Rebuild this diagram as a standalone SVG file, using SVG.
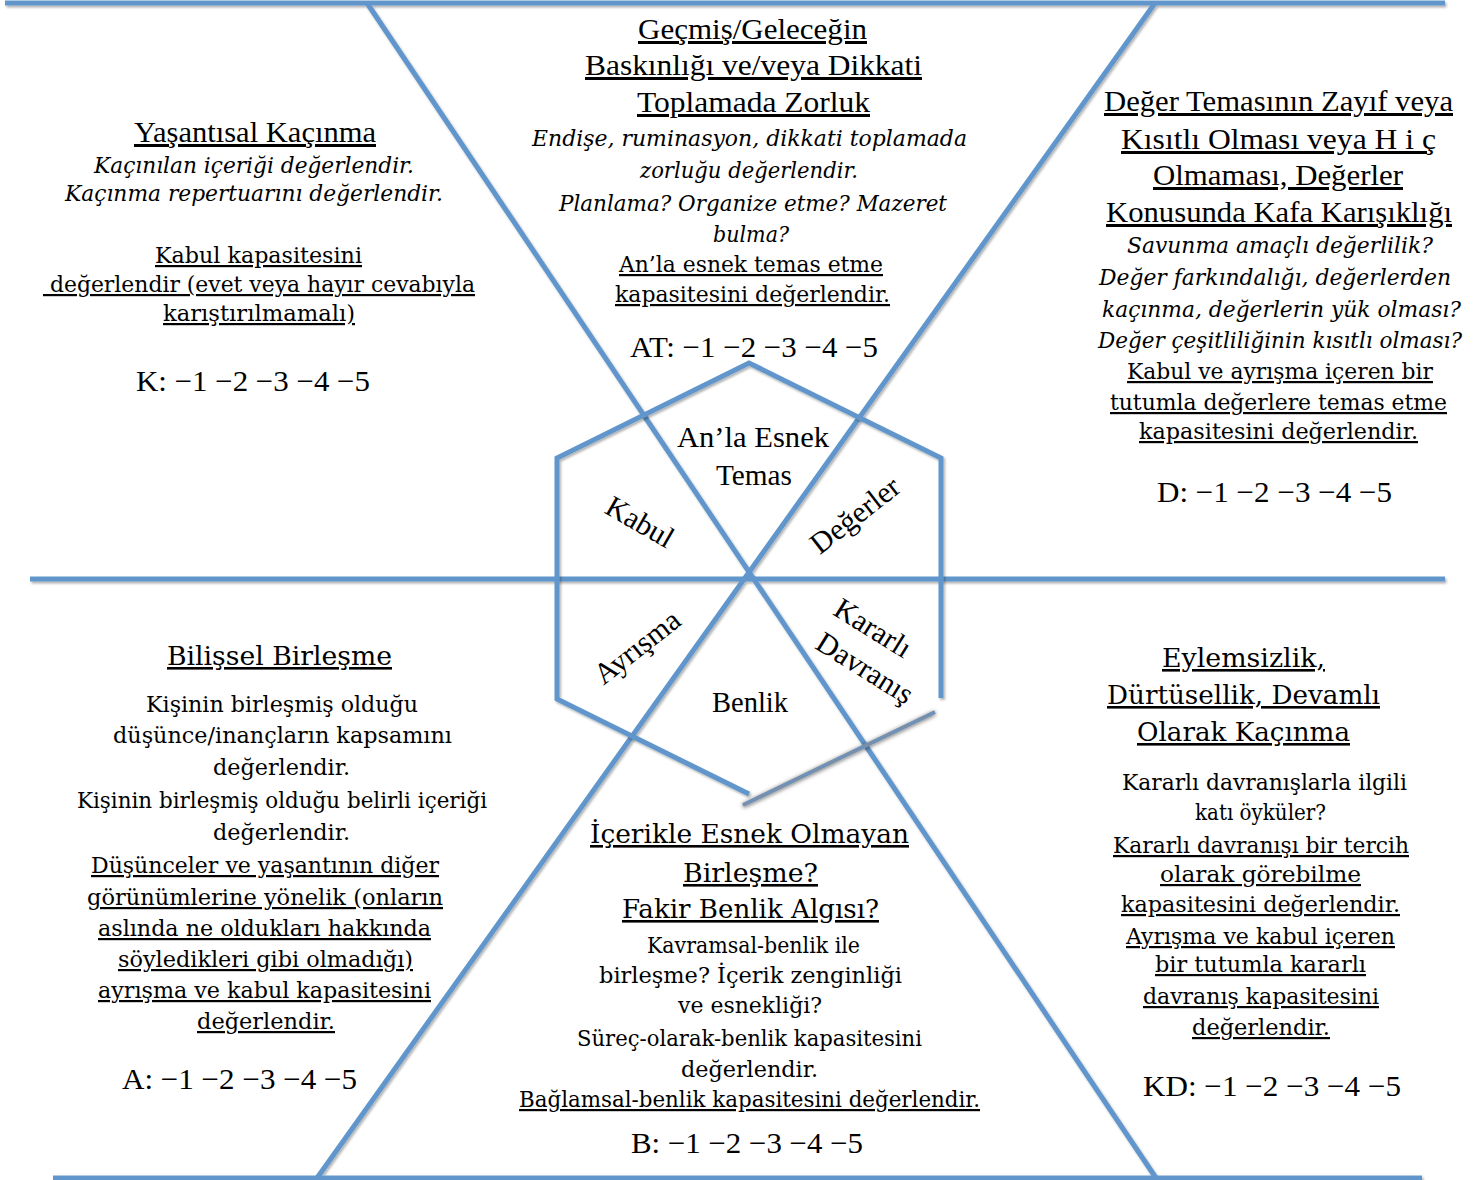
<svg xmlns="http://www.w3.org/2000/svg" width="1479" height="1180" viewBox="0 0 1479 1180">
<style>
.t{font-family:"Liberation Serif","Times New Roman",serif;font-size:30px;fill:#000;text-anchor:middle}
.c{font-family:"DejaVu Serif","Liberation Serif",serif;font-size:22px;fill:#000;text-anchor:middle}
.h{font-family:"DejaVu Serif","Liberation Serif",serif;font-size:26px;fill:#000;text-anchor:middle}
.i{font-style:italic}
.u{text-decoration:underline}
.ln{stroke:#6196cb;stroke-width:5;fill:none;stroke-linecap:butt}
</style>
<defs>
<filter id="sh" x="-5%" y="-5%" width="110%" height="110%">
<feDropShadow dx="1.5" dy="2" stdDeviation="1.2" flood-color="#000" flood-opacity="0.3"/>
</filter>
<filter id="sh2" x="-20%" y="-20%" width="140%" height="140%">
<feDropShadow dx="0" dy="1" stdDeviation="2" flood-color="#000" flood-opacity="0.6"/>
</filter>
</defs>
<rect width="1479" height="1180" fill="#fff"/>

<g id="connectors" filter="url(#sh)">
<line class="ln" x1="5" y1="3" x2="1445" y2="3"/>
<line class="ln" x1="30" y1="579" x2="1445" y2="579"/>
<line class="ln" x1="53" y1="1178" x2="1422" y2="1178"/>
<line class="ln" x1="367" y1="3" x2="1156" y2="1178"/>
<line class="ln" x1="1155" y1="3" x2="317" y2="1178"/>
</g>

<g id="hexagon">
<polyline class="ln" filter="url(#sh)" points="941,698 941,458 749,363 557,458 557,699 749,794"/>
<line x1="743" y1="805" x2="935" y2="712" stroke="#7b8ea6" stroke-width="4" filter="url(#sh2)"/>
<line x1="743" y1="805" x2="935" y2="712" stroke="#6196cb" stroke-width="2" stroke-dasharray="1 1"/>
<text class="t" x="753" y="447" textLength="152" lengthAdjust="spacingAndGlyphs">An’la  Esnek</text>
<text class="t" x="754" y="485" textLength="76" lengthAdjust="spacingAndGlyphs">Temas</text>
<text class="t" x="750" y="712" textLength="76" lengthAdjust="spacingAndGlyphs">Benlik</text>
<text class="t" x="0" y="10" transform="translate(640,522) rotate(30)">Kabul</text>
<text class="t" x="0" y="10" transform="translate(855,515) rotate(-38)">Değerler</text>
<text class="t" x="0" y="10" transform="translate(637,647) rotate(-38)">Ayrışma</text>
<text class="t" x="0" y="10" transform="translate(873,628) rotate(32)">Kararlı</text>
<text class="t" x="0" y="10" transform="translate(865,668) rotate(32)">Davranış</text>
</g>

<g id="box-experiential-avoidance">
<text class="t u" x="255" y="142" textLength="242" lengthAdjust="spacingAndGlyphs">Yaşantısal  Kaçınma</text>
<text class="c i" x="254" y="173" textLength="320" lengthAdjust="spacingAndGlyphs">Kaçınılan içeriği değerlendir.</text>
<text class="c i" x="254" y="201" textLength="378" lengthAdjust="spacingAndGlyphs">Kaçınma repertuarını değerlendir.</text>
<text class="c u" x="258.5" y="263" textLength="207" lengthAdjust="spacingAndGlyphs">Kabul kapasitesini</text>
<text class="c u" x="259" y="292" textLength="432" lengthAdjust="spacingAndGlyphs">&#160;değerlendir (evet veya hayır cevabıyla</text>
<text class="c u" x="259" y="321" textLength="192" lengthAdjust="spacingAndGlyphs">karıştırılmamalı)</text>
<text class="t" x="253" y="391" textLength="234" lengthAdjust="spacingAndGlyphs">K: −1 −2 −3 −4 −5</text>
</g>

<g id="box-past-future">
<text class="t u" x="752.5" y="39" textLength="229" lengthAdjust="spacingAndGlyphs">Geçmiş/Geleceğin</text>
<text class="t u" x="753.5" y="75" textLength="337" lengthAdjust="spacingAndGlyphs">Baskınlığı ve/veya  Dikkati</text>
<text class="t u" x="753.5" y="112" textLength="233" lengthAdjust="spacingAndGlyphs">Toplamada Zorluk</text>
<text class="c i" x="749.5" y="146" textLength="435" lengthAdjust="spacingAndGlyphs">Endişe, ruminasyon, dikkati toplamada</text>
<text class="c i" x="749" y="178" textLength="218" lengthAdjust="spacingAndGlyphs">zorluğu değerlendir.</text>
<text class="c i" x="753" y="211" textLength="388" lengthAdjust="spacingAndGlyphs">Planlama? Organize etme? Mazeret</text>
<text class="c i" x="751" y="242" textLength="76" lengthAdjust="spacingAndGlyphs">bulma?</text>
<text class="c u" x="751" y="272" textLength="264" lengthAdjust="spacingAndGlyphs">An’la esnek temas etme</text>
<text class="c u" x="752.5" y="302" textLength="275" lengthAdjust="spacingAndGlyphs">kapasitesini değerlendir.</text>
<text class="t" x="754" y="357" textLength="248" lengthAdjust="spacingAndGlyphs">AT: −1 −2 −3 −4 −5</text>
</g>

<g id="box-values">
<text class="t u" x="1278.5" y="111" textLength="349" lengthAdjust="spacingAndGlyphs">Değer Temasının Zayıf veya</text>
<text class="t u" x="1278.5" y="149" textLength="315" lengthAdjust="spacingAndGlyphs">Kısıtlı Olması veya  H i ç</text>
<text class="t u" x="1278" y="185" textLength="250" lengthAdjust="spacingAndGlyphs">Olmaması, Değerler</text>
<text class="t u" x="1279" y="222" textLength="346" lengthAdjust="spacingAndGlyphs">Konusunda Kafa Karışıklığı</text>
<text class="c i" x="1280" y="253" textLength="306" lengthAdjust="spacingAndGlyphs">Savunma amaçlı değerlilik?</text>
<text class="c i" x="1275" y="285" textLength="352" lengthAdjust="spacingAndGlyphs">Değer farkındalığı, değerlerden</text>
<text class="c i" x="1281.5" y="317" textLength="359" lengthAdjust="spacingAndGlyphs">kaçınma, değerlerin yük olması?</text>
<text class="c i" x="1280" y="348" textLength="364" lengthAdjust="spacingAndGlyphs">Değer çeşitliliğinin  kısıtlı olması?</text>
<text class="c u" x="1280" y="379" textLength="306" lengthAdjust="spacingAndGlyphs">Kabul ve ayrışma içeren bir</text>
<text class="c u" x="1278.5" y="410" textLength="337" lengthAdjust="spacingAndGlyphs">tutumla değerlere temas etme</text>
<text class="c u" x="1278.5" y="439" textLength="279" lengthAdjust="spacingAndGlyphs">kapasitesini değerlendir.</text>
<text class="t" x="1274.5" y="502" textLength="235" lengthAdjust="spacingAndGlyphs">D: −1 −2 −3 −4 −5</text>
</g>

<g id="box-fusion">
<text class="h u" x="279.5" y="665" textLength="225" lengthAdjust="spacingAndGlyphs">Bilişsel Birleşme</text>
<text class="c" x="282" y="712" textLength="272" lengthAdjust="spacingAndGlyphs">Kişinin birleşmiş olduğu</text>
<text class="c" x="282.5" y="743" textLength="339" lengthAdjust="spacingAndGlyphs">düşünce/inançların kapsamını</text>
<text class="c" x="281.5" y="775" textLength="137" lengthAdjust="spacingAndGlyphs">değerlendir.</text>
<text class="c" x="282" y="808" textLength="410" lengthAdjust="spacingAndGlyphs">Kişinin birleşmiş olduğu belirli içeriği</text>
<text class="c" x="281.5" y="840" textLength="137" lengthAdjust="spacingAndGlyphs">değerlendir.</text>
<text class="c u" x="265" y="873" textLength="348" lengthAdjust="spacingAndGlyphs">Düşünceler ve yaşantının diğer</text>
<text class="c u" x="265" y="905" textLength="356" lengthAdjust="spacingAndGlyphs">görünümlerine yönelik (onların</text>
<text class="c u" x="264.5" y="936" textLength="333" lengthAdjust="spacingAndGlyphs">aslında ne oldukları hakkında</text>
<text class="c u" x="265.5" y="967" textLength="295" lengthAdjust="spacingAndGlyphs">söyledikleri gibi olmadığı)</text>
<text class="c u" x="264.5" y="998" textLength="333" lengthAdjust="spacingAndGlyphs">ayrışma ve kabul kapasitesini</text>
<text class="c u" x="266" y="1029" textLength="138" lengthAdjust="spacingAndGlyphs">değerlendir.</text>
<text class="t" x="239.5" y="1089" textLength="235" lengthAdjust="spacingAndGlyphs">A: −1 −2 −3 −4 −5</text>
</g>

<g id="box-self">
<text class="h u" x="749.5" y="843" textLength="319" lengthAdjust="spacingAndGlyphs">İçerikle Esnek Olmayan</text>
<text class="h u" x="750.5" y="882" textLength="135" lengthAdjust="spacingAndGlyphs">Birleşme?</text>
<text class="h u" x="750.5" y="918" textLength="257" lengthAdjust="spacingAndGlyphs">Fakir Benlik Algısı?</text>
<text class="c" x="753.5" y="953" textLength="213" lengthAdjust="spacingAndGlyphs">Kavramsal-benlik ile</text>
<text class="c" x="750.5" y="983" textLength="303" lengthAdjust="spacingAndGlyphs">birleşme?  İçerik zenginliği</text>
<text class="c" x="750" y="1013" textLength="144" lengthAdjust="spacingAndGlyphs">ve esnekliği?</text>
<text class="c" x="749.5" y="1046" textLength="345" lengthAdjust="spacingAndGlyphs">Süreç-olarak-benlik kapasitesini</text>
<text class="c" x="749.5" y="1077" textLength="137" lengthAdjust="spacingAndGlyphs">değerlendir.</text>
<text class="c u" x="749.5" y="1107" textLength="461" lengthAdjust="spacingAndGlyphs">Bağlamsal-benlik kapasitesini değerlendir.</text>
<text class="t" x="747" y="1153" textLength="232" lengthAdjust="spacingAndGlyphs">B: −1 −2 −3 −4 −5</text>
</g>

<g id="box-committed-action">
<text class="h u" x="1243.5" y="667" textLength="163" lengthAdjust="spacingAndGlyphs">Eylemsizlik,</text>
<text class="h u" x="1243.5" y="704" textLength="273" lengthAdjust="spacingAndGlyphs">Dürtüsellik, Devamlı</text>
<text class="h u" x="1243.5" y="741" textLength="213" lengthAdjust="spacingAndGlyphs">Olarak Kaçınma</text>
<text class="c" x="1264.5" y="790" textLength="285" lengthAdjust="spacingAndGlyphs">Kararlı davranışlarla ilgili</text>
<text class="c" x="1260.5" y="820" textLength="131" lengthAdjust="spacingAndGlyphs">katı öyküler?</text>
<text class="c u" x="1261" y="853" textLength="296" lengthAdjust="spacingAndGlyphs">Kararlı davranışı bir tercih</text>
<text class="c u" x="1260.5" y="882" textLength="201" lengthAdjust="spacingAndGlyphs">olarak  görebilme</text>
<text class="c u" x="1260.5" y="912" textLength="279" lengthAdjust="spacingAndGlyphs">kapasitesini değerlendir.</text>
<text class="c u" x="1260.5" y="944" textLength="269" lengthAdjust="spacingAndGlyphs">Ayrışma ve kabul içeren</text>
<text class="c u" x="1260.5" y="972" textLength="211" lengthAdjust="spacingAndGlyphs">bir  tutumla kararlı</text>
<text class="c u" x="1261" y="1004" textLength="236" lengthAdjust="spacingAndGlyphs">davranış kapasitesini</text>
<text class="c u" x="1261" y="1035" textLength="138" lengthAdjust="spacingAndGlyphs">değerlendir.</text>
<text class="t" x="1272" y="1096" textLength="258" lengthAdjust="spacingAndGlyphs">KD: −1 −2 −3 −4 −5</text>
</g>
</svg>
